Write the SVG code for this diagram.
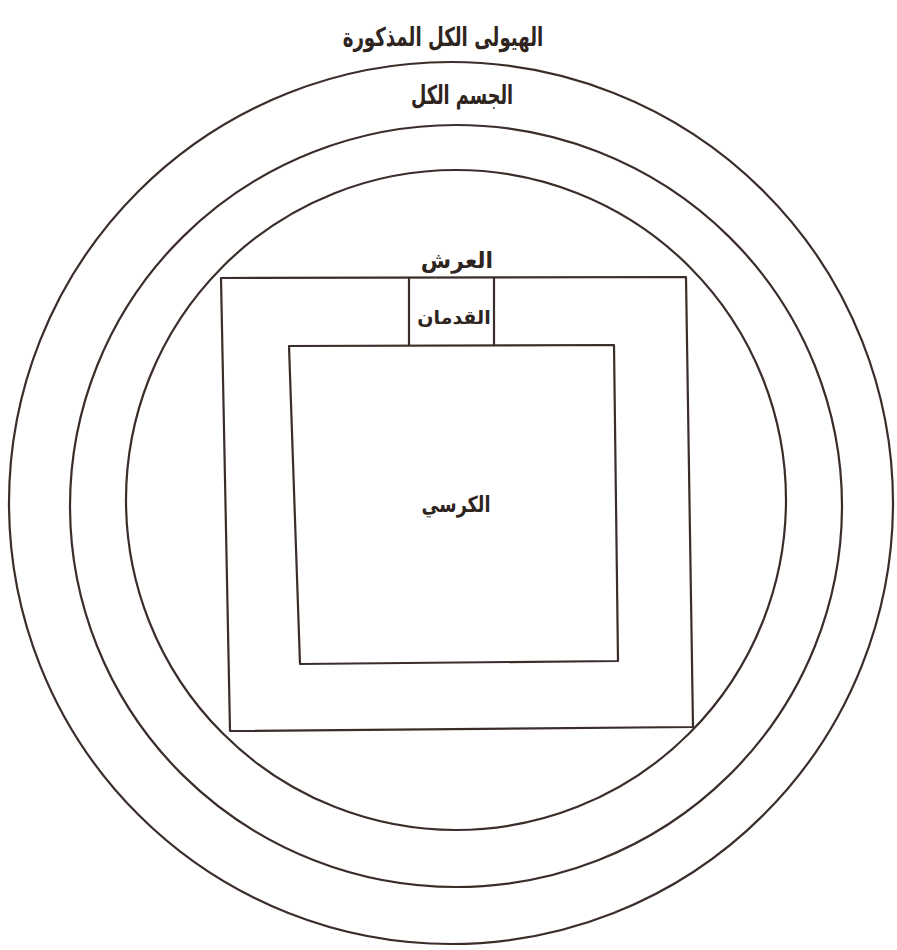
<svg xmlns="http://www.w3.org/2000/svg" width="897" height="950" viewBox="0 0 897 950">
<style>
.ln{fill:none;stroke:#3b2e2a;stroke-width:2.2;stroke-linejoin:round}
.t{font-family:"DejaVu Sans","Liberation Sans",sans-serif;font-weight:bold;fill:#2e2420;text-anchor:middle;direction:rtl}
</style>
<rect width="897" height="950" fill="#ffffff"/>
<g id="outer-circle"><ellipse class="ln" cx="451" cy="503" rx="442" ry="441"/></g>
<g id="middle-circle"><ellipse class="ln" cx="456" cy="506" rx="386" ry="381"/></g>
<g id="inner-circle"><ellipse class="ln" cx="456" cy="500" rx="330" ry="330"/></g>
<g id="arsh"><path class="ln" d="M221 278 L686 277 L693 727 L230 731 Z"/></g>
<g id="qadaman"><path class="ln" d="M409 278 L409 346 M494 278 L494 346"/></g>
<g id="kursi"><path class="ln" d="M289 346 L614 345 L618 661 L300 664 Z"/></g>
<g id="labels">
<text class="t" transform="translate(443 46) scale(0.7 1)" font-size="26">الهيولى الكل المذكورة</text>
<text class="t" transform="translate(462 104) scale(0.68 1)" font-size="26">الجسم الكل</text>
<text class="t" x="457" y="268" font-size="22">العرش</text>
<text class="t" x="454" y="324" font-size="19">القدمان</text>
<text class="t" transform="translate(456 512) scale(0.8 1)" font-size="22">الكرسي</text>
</g>
</svg>
